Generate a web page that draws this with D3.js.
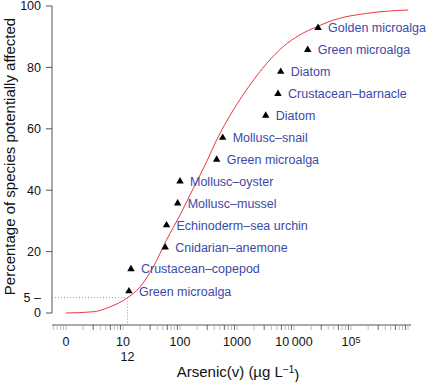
<!DOCTYPE html>
<html>
<head>
<meta charset="utf-8">
<script src="https://cdn.jsdelivr.net/npm/d3@7"></script>
<style>
body { margin: 0; background: #fff; }
text { font-family: "Liberation Sans", Arial, sans-serif; }
</style>
</head>
<body>
<div id="chart"></div>
<script>
// species sensitivity points (bottom to top)
const species = ["Green microalga", "Crustacean\u2013copepod", "Cnidarian\u2013anemone",
  "Echinoderm\u2013sea urchin", "Mollusc\u2013mussel", "Mollusc\u2013oyster", "Green microalga",
  "Mollusc\u2013snail", "Diatom", "Crustacean\u2013barnacle", "Diatom", "Green microalga",
  "Golden microalga"];
const speciesConc = [12.7, 13.8, 55, 58, 91, 100, 440, 560, 3190, 5240, 5850, 17400, 26400];
const speciesPct = [7.1, 14.3, 21.4, 28.6, 35.7, 42.9, 50.0, 57.1, 64.3, 71.4, 78.6, 85.7, 92.9];

// fitted curve
const curveConc = [1, 3, 5.9, 11.6, 19.9, 34, 58, 100, 171, 294, 440, 860, 1690, 3320,
  6490, 12700, 25000, 48900, 188000, 1010000];
const curvePct = [0, 0.4, 2.0, 4.8, 8.5, 15.0, 23.8, 31.9, 40.6, 49.3, 56.4, 66.1, 74.3,
  81.3, 86.8, 90.6, 93.2, 95.4, 97.6, 98.7];

const yTicks = [0, 20, 40, 60, 80, 100];
const xTickVals = [1, 10, 100, 1000, 10000, 100000];
const xTickLabels = ["0", "10", "100", "1000", "10\u2009000", "10"];
const hc5Conc = 12;
const hc5Pct = 5;

const width = 426, height = 382;

let svg = d3.select("#chart")
  .append("svg")
  .attr("width", width)
  .attr("height", height);

let x = d3.scaleLog()
  .domain([1, 100000])
  .range([66, 351]);

let y = d3.scaleLinear()
  .domain([0, 100])
  .range([313, 6]);

const axisY = 325;

// y axis
svg.append("line")
  .attr("x1", 52).attr("x2", 52)
  .attr("y1", y(0)).attr("y2", y(100))
  .attr("stroke", "#555").attr("stroke-width", 1);

svg.selectAll(".ytick")
  .data(yTicks)
  .enter()
  .append("line")
  .attr("x1", 46).attr("x2", 52)
  .attr("y1", d => y(d)).attr("y2", d => y(d))
  .attr("stroke", "#555");

svg.selectAll(".ylab")
  .data(yTicks)
  .enter()
  .append("text")
  .attr("x", 41)
  .attr("y", d => y(d))
  .attr("dy", "0.35em")
  .attr("text-anchor", "end")
  .attr("font-size", 12.5)
  .attr("fill", "#111")
  .text(d => d);

svg.append("text")
  .attr("x", 41)
  .attr("y", y(hc5Pct))
  .attr("dy", "0.35em")
  .attr("text-anchor", "end")
  .attr("font-size", 12.5)
  .attr("fill", "#111")
  .text("5 \u2013");

svg.append("text")
  .attr("transform", `translate(15,${(y(0) + y(100)) / 2 - 3}) rotate(-90)`)
  .attr("text-anchor", "middle")
  .attr("font-size", 15)
  .attr("fill", "#111")
  .text("Percentage of species potentially affected");

// x axis
svg.append("line")
  .attr("x1", 52).attr("x2", 411)
  .attr("y1", axisY).attr("y2", axisY)
  .attr("stroke", "#555");

let minor = [];
for (let k = -1; k <= 6; k++) {
  for (let m = 1; m <= 9; m++) {
    let v = m * Math.pow(10, k);
    if (x(v) >= 52 && x(v) <= 411) minor.push(v);
  }
}

svg.selectAll(".xtick")
  .data(minor)
  .enter()
  .append("line")
  .attr("x1", d => x(d)).attr("x2", d => x(d))
  .attr("y1", axisY).attr("y2", axisY + 5)
  .attr("stroke", d => (d % 3 === 0 ? "#444" : "#aaa"))
  .attr("stroke-width", 0.8);

let xl = svg.selectAll(".xlab")
  .data(xTickVals)
  .enter()
  .append("text")
  .attr("x", d => x(d))
  .attr("y", 342)
  .attr("dy", "0.35em")
  .attr("text-anchor", "middle")
  .attr("font-size", 12.5)
  .attr("fill", "#111")
  .text((d, i) => xTickLabels[i]);

xl.filter(d => d === 100000)
  .append("tspan")
  .attr("dy", "-0.4em")
  .attr("font-size", 9)
  .text("5");

svg.append("text")
  .attr("x", x(hc5Conc))
  .attr("y", 357)
  .attr("dy", "0.35em")
  .attr("text-anchor", "middle")
  .attr("font-size", 12.5)
  .attr("fill", "#111")
  .text(hc5Conc);

let xt = svg.append("text")
  .attr("x", 238)
  .attr("y", 372)
  .attr("dy", "0.35em")
  .attr("text-anchor", "middle")
  .attr("font-size", 15)
  .attr("fill", "#111");
xt.append("tspan").text("Arsenic(v) (\u00b5g L");
xt.append("tspan").attr("dy", "-0.45em").attr("font-size", 10).text("\u22121");
xt.append("tspan").attr("dy", "0.45em").text(")");

// HC5 guide lines
svg.append("line")
  .attr("x1", 52).attr("x2", x(hc5Conc))
  .attr("y1", y(hc5Pct)).attr("y2", y(hc5Pct))
  .attr("stroke", "#999").attr("stroke-dasharray", "1,2");

svg.append("line")
  .attr("x1", x(hc5Conc)).attr("x2", x(hc5Conc))
  .attr("y1", y(hc5Pct)).attr("y2", axisY)
  .attr("stroke", "#999").attr("stroke-dasharray", "1,2");

// curve
let lineGenerator = d3.line()
  .x(d => x(d[0]))
  .y(d => y(d[1]))
  .curve(d3.curveMonotoneX);

svg.append("path")
  .attr("d", lineGenerator(curveConc.map((c, i) => [c, curvePct[i]])))
  .attr("fill", "none")
  .attr("stroke", "#e8393f")
  .attr("stroke-width", 1);

// species points
let nodes = species.map((s, i) => ({name: s, conc: speciesConc[i], pct: speciesPct[i]}));

svg.selectAll(".pt")
  .data(nodes)
  .enter()
  .append("path")
  .attr("d", d3.symbol().type(d3.symbolTriangle).size(24))
  .attr("transform", d => `translate(${x(d.conc)},${y(d.pct)})`)
  .attr("fill", "#000");

svg.selectAll(".plab")
  .data(nodes)
  .enter()
  .append("text")
  .attr("x", d => x(d.conc) + 10)
  .attr("y", d => y(d.pct))
  .attr("dy", "0.35em")
  .attr("font-size", 12.5)
  .attr("fill", "#3a4aa8")
  .text(d => d.name);
</script>
</body>
</html>
